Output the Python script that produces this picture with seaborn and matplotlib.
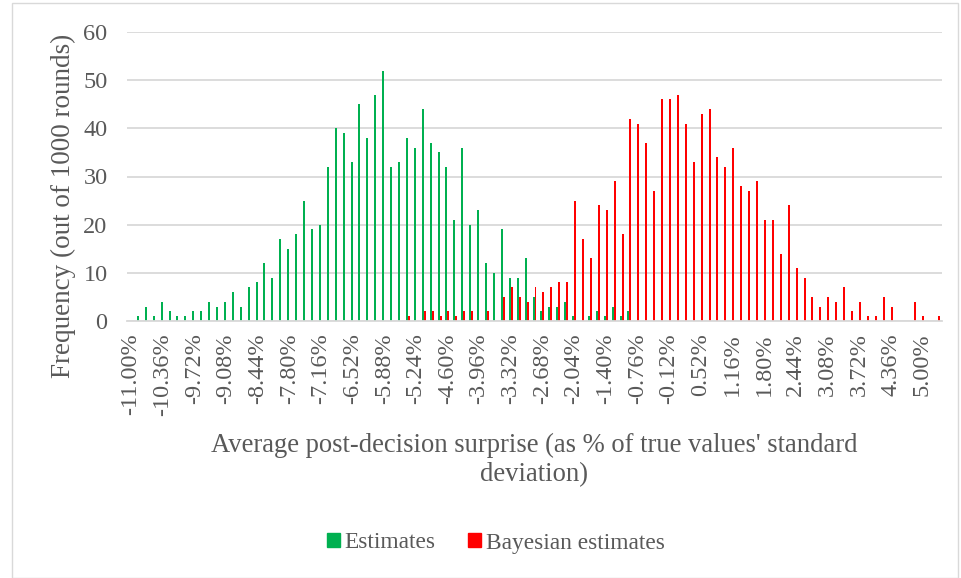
import numpy as np
import pandas as pd
import matplotlib
matplotlib.use("Agg")
import matplotlib.pyplot as plt
from matplotlib.patches import Rectangle
import seaborn as sns

# category bins: -11.00% .. 5.32% in steps of 0.16%
bins = np.round(np.arange(103) * 0.16 - 11.0, 2)
categories = [f"{b:.2f}%" for b in bins]

estimates = [0, 1, 3, 1, 4, 2, 1, 1, 2, 2, 4, 3, 4, 6, 3, 7, 8, 12, 9, 17,
             15, 18, 25, 19, 20, 32, 40, 39, 33, 45, 38, 47, 52, 32, 33, 38, 36, 44, 37, 35,
             32, 21, 36, 20, 23, 12, 10, 19, 9, 9, 13, 5, 2, 3, 3, 4, 1, 0, 1, 2,
             1, 3, 1, 2, 0, 0, 0, 0, 0, 0, 0, 0, 0, 0, 0, 0, 0, 0, 0, 0,
             0, 0, 0, 0, 0, 0, 0, 0, 0, 0, 0, 0, 0, 0, 0, 0, 0, 0, 0, 0,
             0, 0, 0]

bayesian = [0, 0, 0, 0, 0, 0, 0, 0, 0, 0, 0, 0, 0, 0, 0, 0, 0, 0, 0, 0,
            0, 0, 0, 0, 0, 0, 0, 0, 0, 0, 0, 0, 0, 0, 0, 1, 0, 2, 2, 1,
            2, 1, 2, 2, 0, 2, 0, 5, 7, 5, 4, 7, 6, 7, 8, 8, 25, 17, 13, 24,
            23, 29, 18, 42, 41, 37, 27, 46, 46, 47, 41, 33, 43, 44, 34, 32, 36, 28, 27, 29,
            21, 21, 14, 24, 11, 9, 5, 3, 5, 4, 7, 2, 4, 1, 1, 5, 3, 0, 0, 4,
            1, 0, 1]

series_names = ["Estimates", "Bayesian estimates"]
colors = {"Estimates": "#00B050", "Bayesian estimates": "#FF0000"}

df = pd.DataFrame({
    "category": categories * 2,
    "count": estimates + bayesian,
    "series": [series_names[0]] * len(categories) + [series_names[1]] * len(categories),
})

text_color = "#595959"
grid_color = "#D9D9D9"
serif = ["Liberation Serif", "DejaVu Serif"]

sns.set_theme(style="white")
plt.rcParams["font.family"] = serif

fig = plt.figure(figsize=(9.61, 5.78), dpi=100)
W, H = 961, 578
ax = fig.add_axes([127 / W, 1 - 321 / H, (942 - 127) / W, (321 - 32) / H])

sns.barplot(data=df, x="category", y="count", hue="series", order=categories,
            hue_order=series_names, palette=colors, width=0.5, dodge=True,
            saturation=1, legend=False, ax=ax, linewidth=0)

ax.set_ylim(0, 60)
ax.set_xlim(-0.5, len(categories) - 0.5)
ax.set_yticks(range(0, 61, 10))
ax.set_xticks(range(0, len(categories), 4))
ax.set_xticklabels(categories[::4], rotation=90)
ax.tick_params(axis="x", length=0, pad=9, labelsize=17.5, labelcolor=text_color)
ax.tick_params(axis="y", length=0, pad=14, labelsize=17.5, labelcolor=text_color)
ax.set_xlabel("")
ax.set_ylabel("")

ax.yaxis.grid(True, color=grid_color, linewidth=1.3)
ax.set_axisbelow(True)
for side in ["top", "right", "left"]:
    ax.spines[side].set_visible(False)
ax.spines["bottom"].set_color(grid_color)
ax.spines["bottom"].set_linewidth(1.3)

fig.text(63 / W, 1 - 206 / H, "Frequency (out of 1000 rounds)", rotation=90,
         ha="center", va="center", fontsize=19.5, color=text_color)
fig.text(534 / W, 1 - 460 / H,
         "Average post-decision surprise (as % of true values' standard\ndeviation)",
         ha="center", va="center", fontsize=19.2, color=text_color, linespacing=1.22)

handles = [Rectangle((0, 0), 1, 1, color=colors[s]) for s in series_names]
fig.legend(handles, series_names, loc="center", bbox_to_anchor=(496 / W, 1 - 543 / H),
           ncol=2, frameon=False, fontsize=16.8, labelcolor=text_color,
           handlelength=0.55, handleheight=0.55, handletextpad=0.2, columnspacing=1.4)

# chart area border
fig.patches.append(Rectangle((11.5 / W, 0), (958 - 11.5) / W, 1 - 3 / H,
                             transform=fig.transFigure, fill=False,
                             edgecolor=grid_color, linewidth=1))

fig.savefig("out.png", dpi=100)
